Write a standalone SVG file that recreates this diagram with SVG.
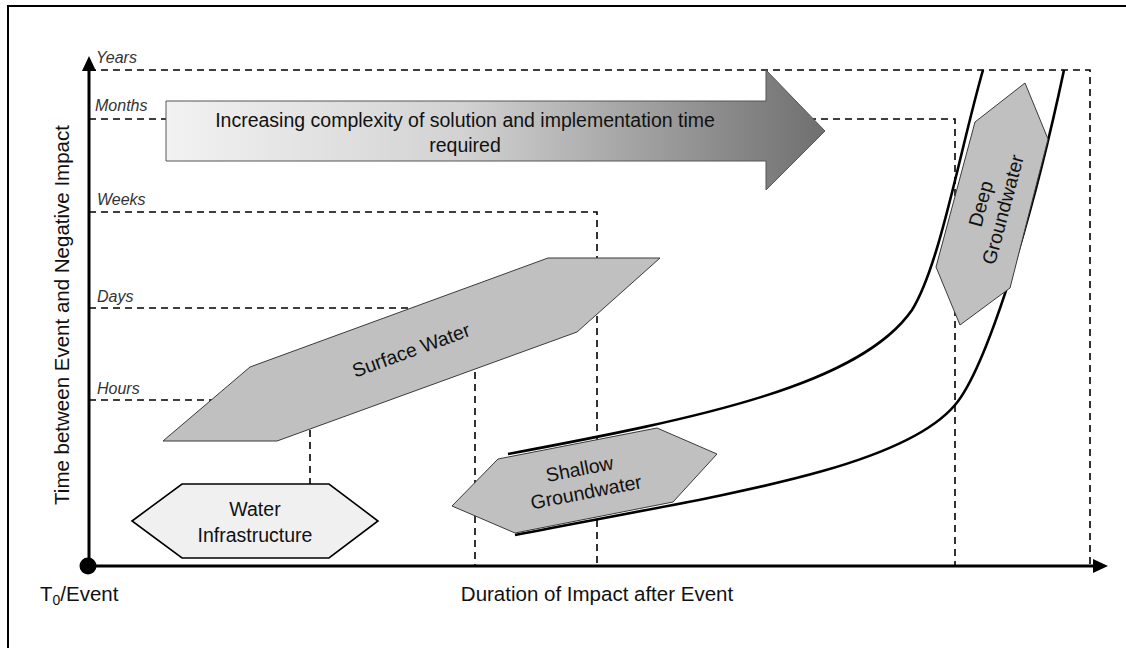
<svg xmlns="http://www.w3.org/2000/svg" width="1126" height="648" viewBox="0 0 1126 648">
<defs>
<linearGradient id="arrGrad" x1="0" y1="0" x2="1" y2="0">
<stop offset="0" stop-color="#f2f2f2"/>
<stop offset="0.45" stop-color="#d2d2d2"/>
<stop offset="1" stop-color="#6f6f6f"/>
</linearGradient>
<style>
.dash{fill:none;stroke:#000;stroke-width:1.6;stroke-dasharray:7 5}
.axis{fill:none;stroke:#000;stroke-width:3}
.curve{fill:none;stroke:#000;stroke-width:2.6}
.hexg{fill:#c0c0c0;stroke:#3a3a3a;stroke-width:1}
.hexl{fill:#f0f0f0;stroke:#000;stroke-width:1.6}
.t{font-family:"Liberation Sans",Arial,sans-serif;font-size:19.5px;fill:#111}
.ax{font-family:"Liberation Sans",Arial,sans-serif;font-size:20.5px;fill:#111}
.tick{font-family:"Liberation Sans",Arial,sans-serif;font-size:16px;font-style:italic;fill:#333}
</style>
</defs>
<rect x="8" y="6" width="1140" height="680" fill="#fff" stroke="#000" stroke-width="2"/>

<g id="gridlines">
<path class="dash" d="M89 70 H1090 V566"/>
<path class="dash" d="M89 119 H955 V566"/>
<path class="dash" d="M89 212 H597 V566"/>
<path class="dash" d="M89 308 H420"/>
<path class="dash" d="M89 400 H215"/>
<path class="dash" d="M475 360 V566"/>
<path class="dash" d="M310 430 V484"/>
</g>

<g id="ticks">
<text class="tick" x="96" y="63">Years</text>
<text class="tick" x="95" y="111">Months</text>
<text class="tick" x="97" y="205">Weeks</text>
<text class="tick" x="97" y="302">Days</text>
<text class="tick" x="97" y="394">Hours</text>
</g>

<g id="complexity-arrow">
<path d="M166 101 H766 V70 L825 131 L766 190 V161 H166 Z" fill="url(#arrGrad)" stroke="#555" stroke-width="1"/>
<text class="t" x="465" y="127" text-anchor="middle" font-size="19.3">Increasing complexity of solution and implementation time</text>
<text class="t" x="465" y="152" text-anchor="middle" font-size="19.3">required</text>
</g>

<g id="connectors">
<path class="curve" d="M508 454 C700 418 860 385 912 310 C940 265 960 150 983 70"/>
<path class="curve" d="M515 535 C720 495 900 470 955 405 C985 370 1030 230 1064 70"/>
</g>

<g id="surface-water">
<path class="hexg" d="M163 441 L250 367 L548 258 L660 258 L577 332 L277 441 Z"/>
<text class="t" x="411" y="357" text-anchor="middle" transform="rotate(-20 411 350)">Surface Water</text>
</g>

<g id="shallow-groundwater">
<path class="hexg" d="M452 506 L498 459 L657 428 L717 454 L673 502 L515 533 Z"/>
<g transform="rotate(-11 584 481)">
<text class="t" x="582" y="475" text-anchor="middle">Shallow</text>
<text class="t" x="584" y="499" text-anchor="middle">Groundwater</text>
</g>
</g>

<g id="deep-groundwater">
<path class="hexg" d="M1025 83 L1048 139 L1010 288 L960 325 L936 267 L975 122 Z"/>
<g transform="rotate(-75 993 207)">
<text class="t" x="993" y="201" text-anchor="middle">Deep</text>
<text class="t" x="993" y="224" text-anchor="middle">Groundwater</text>
</g>
</g>

<g id="water-infrastructure">
<path class="hexl" d="M132 521 L182 484 L329 484 L378 521 L329 558 L182 558 Z"/>
<text class="t" x="255" y="516" text-anchor="middle">Water</text>
<text class="t" x="255" y="542" text-anchor="middle">Infrastructure</text>
</g>

<g id="axes">
<path class="axis" d="M89 566 V68"/>
<path d="M82 71 L89 56 L96 71 Z" fill="#000"/>
<path class="axis" d="M89 566 H1096"/>
<path d="M1093 559 L1108 566 L1093 573 Z" fill="#000"/>
<circle cx="88" cy="566" r="8.5" fill="#000"/>
</g>

<g id="axis-labels">
<text class="ax" x="0" y="0" text-anchor="middle" font-size="21" transform="translate(69 315) rotate(-90)">Time between Event and Negative Impact</text>
<text class="ax" x="40" y="601">T<tspan font-size="14" dy="4">0</tspan><tspan dy="-4">/Event</tspan></text>
<text class="ax" x="597" y="601" text-anchor="middle">Duration of Impact after Event</text>
</g>
</svg>
